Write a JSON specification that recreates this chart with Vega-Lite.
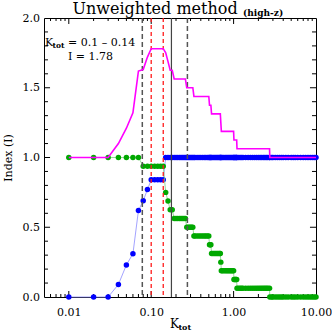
{
  "$schema": "https://vega.github.io/schema/vega-lite/v6.json",
  "autosize": "none",
  "padding": {"left": 44, "top": 18, "right": 16, "bottom": 36},
  "width": 272,
  "height": 279,
  "background": "white",
  "config": {
    "view": {"stroke": "black", "strokeWidth": 1},
    "axis": {"labelFont": "DejaVu Serif", "titleFont": "DejaVu Serif", "labelColor": "black", "ticks": false, "domain": false, "grid": false, "labelFontSize": 11, "titleFontWeight": "normal", "titleColor": "black"}
  },
  "datasets": {
    "index": [
      {"k": 0.01, "b": 0, "g": 1, "i": 1},
      {"k": 0.02, "b": 0, "g": 1, "i": 1},
      {"k": 0.03, "b": 0, "g": 1, "i": 1},
      {"k": 0.04, "b": 0.09, "g": 1, "i": 1.1},
      {"k": 0.05, "b": 0.23, "g": 1, "i": 1.21},
      {"k": 0.06, "b": 0.31, "g": 1, "i": 1.32},
      {"k": 0.07, "b": 0.62, "g": 1, "i": 1.62},
      {"k": 0.08, "b": 0.69, "g": 0.9375, "i": 1.63},
      {"k": 0.09, "b": 0.77, "g": 0.9375, "i": 1.72},
      {"k": 0.10, "b": 0.84, "g": 0.9375, "i": 1.78},
      {"k": 0.11, "b": 0.84, "g": 0.9375, "i": 1.78},
      {"k": 0.12, "b": 0.84, "g": 0.9375, "i": 1.78},
      {"k": 0.13, "b": 0.84, "g": 0.9375, "i": 1.78},
      {"k": 0.14, "b": 0.84, "g": 0.9375, "i": 1.78},
      {"k": 0.15, "b": 1, "g": 0.75, "i": 1.75},
      {"k": 0.16, "b": 1, "g": 0.6875, "i": 1.6875},
      {"k": 0.17, "b": 1, "g": 0.625, "i": 1.625},
      {"k": 0.18, "b": 1, "g": 0.625, "i": 1.625},
      {"k": 0.19, "b": 1, "g": 0.5625, "i": 1.5625},
      {"k": 0.20, "b": 1, "g": 0.5625, "i": 1.5625},
      {"k": 0.21, "b": 1, "g": 0.5625, "i": 1.5625},
      {"k": 0.22, "b": 1, "g": 0.5625, "i": 1.5625},
      {"k": 0.23, "b": 1, "g": 0.5625, "i": 1.5625},
      {"k": 0.24, "b": 1, "g": 0.5625, "i": 1.5625},
      {"k": 0.25, "b": 1, "g": 0.5625, "i": 1.5625},
      {"k": 0.26, "b": 1, "g": 0.5625, "i": 1.5625},
      {"k": 0.27, "b": 1, "g": 0.5, "i": 1.5},
      {"k": 0.28, "b": 1, "g": 0.5, "i": 1.5},
      {"k": 0.29, "b": 1, "g": 0.5, "i": 1.5},
      {"k": 0.30, "b": 1, "g": 0.5, "i": 1.5},
      {"k": 0.31, "b": 1, "g": 0.5, "i": 1.5},
      {"k": 0.32, "b": 1, "g": 0.5, "i": 1.5},
      {"k": 0.33, "b": 1, "g": 0.4375, "i": 1.4375},
      {"k": 0.34, "b": 1, "g": 0.4375, "i": 1.4375},
      {"k": 0.36, "b": 1, "g": 0.4375, "i": 1.4375},
      {"k": 0.38, "b": 1, "g": 0.4375, "i": 1.4375},
      {"k": 0.40, "b": 1, "g": 0.4375, "i": 1.4375},
      {"k": 0.42, "b": 1, "g": 0.4375, "i": 1.4375},
      {"k": 0.44, "b": 1, "g": 0.4375, "i": 1.4375},
      {"k": 0.46, "b": 1, "g": 0.4375, "i": 1.4375},
      {"k": 0.48, "b": 1, "g": 0.4375, "i": 1.4375},
      {"k": 0.50, "b": 1, "g": 0.4375, "i": 1.4375},
      {"k": 0.51, "b": 1, "g": 0.375, "i": 1.375},
      {"k": 0.52, "b": 1, "g": 0.375, "i": 1.375},
      {"k": 0.53, "b": 1, "g": 0.375, "i": 1.375},
      {"k": 0.54, "b": 1, "g": 0.3125, "i": 1.3125},
      {"k": 0.56, "b": 1, "g": 0.3125, "i": 1.3125},
      {"k": 0.58, "b": 1, "g": 0.3125, "i": 1.3125},
      {"k": 0.60, "b": 1, "g": 0.3125, "i": 1.3125},
      {"k": 0.62, "b": 1, "g": 0.3125, "i": 1.3125},
      {"k": 0.64, "b": 1, "g": 0.3125, "i": 1.3125},
      {"k": 0.66, "b": 1, "g": 0.3125, "i": 1.3125},
      {"k": 0.68, "b": 1, "g": 0.3125, "i": 1.3125},
      {"k": 0.69, "b": 1, "g": 0.3125, "i": 1.3125},
      {"k": 0.70, "b": 1, "g": 0.25, "i": 1.25},
      {"k": 0.71, "b": 1, "g": 0.1875, "i": 1.1875},
      {"k": 0.73, "b": 1, "g": 0.1875, "i": 1.1875},
      {"k": 0.76, "b": 1, "g": 0.1875, "i": 1.1875},
      {"k": 0.79, "b": 1, "g": 0.1875, "i": 1.1875},
      {"k": 0.82, "b": 1, "g": 0.1875, "i": 1.1875},
      {"k": 0.85, "b": 1, "g": 0.1875, "i": 1.1875},
      {"k": 0.88, "b": 1, "g": 0.1875, "i": 1.1875},
      {"k": 0.91, "b": 1, "g": 0.1875, "i": 1.1875},
      {"k": 0.94, "b": 1, "g": 0.1875, "i": 1.1875},
      {"k": 0.97, "b": 1, "g": 0.1875, "i": 1.1875},
      {"k": 1.00, "b": 1, "g": 0.1875, "i": 1.1875},
      {"k": 1.01, "b": 1, "g": 0.125, "i": 1.125},
      {"k": 1.03, "b": 1, "g": 0.125, "i": 1.125},
      {"k": 1.05, "b": 1, "g": 0.125, "i": 1.125},
      {"k": 1.07, "b": 1, "g": 0.125, "i": 1.125},
      {"k": 1.09, "b": 1, "g": 0.125, "i": 1.125},
      {"k": 1.10, "b": 1, "g": 0.0625, "i": 1.0625},
      {"k": 1.15, "b": 1, "g": 0.0625, "i": 1.0625},
      {"k": 1.20, "b": 1, "g": 0.0625, "i": 1.0625},
      {"k": 1.25, "b": 1, "g": 0.0625, "i": 1.0625},
      {"k": 1.30, "b": 1, "g": 0.0625, "i": 1.0625},
      {"k": 1.40, "b": 1, "g": 0.0625, "i": 1.0625},
      {"k": 1.50, "b": 1, "g": 0.0625, "i": 1.0625},
      {"k": 1.60, "b": 1, "g": 0.0625, "i": 1.0625},
      {"k": 1.70, "b": 1, "g": 0.0625, "i": 1.0625},
      {"k": 1.80, "b": 1, "g": 0.0625, "i": 1.0625},
      {"k": 1.90, "b": 1, "g": 0.0625, "i": 1.0625},
      {"k": 2.00, "b": 1, "g": 0.0625, "i": 1.0625},
      {"k": 2.10, "b": 1, "g": 0.0625, "i": 1.0625},
      {"k": 2.20, "b": 1, "g": 0.0625, "i": 1.0625},
      {"k": 2.30, "b": 1, "g": 0.0625, "i": 1.0625},
      {"k": 2.40, "b": 1, "g": 0.0625, "i": 1.0625},
      {"k": 2.50, "b": 1, "g": 0.0625, "i": 1.0625},
      {"k": 2.60, "b": 1, "g": 0.0625, "i": 1.0625},
      {"k": 2.73, "b": 1, "g": 0.0625, "i": 1.0625},
      {"k": 2.75, "b": 1, "g": 0, "i": 1},
      {"k": 2.90, "b": 1, "g": 0, "i": 1},
      {"k": 3.00, "b": 1, "g": 0, "i": 1},
      {"k": 3.20, "b": 1, "g": 0, "i": 1},
      {"k": 3.40, "b": 1, "g": 0, "i": 1},
      {"k": 3.60, "b": 1, "g": 0, "i": 1},
      {"k": 3.80, "b": 1, "g": 0, "i": 1},
      {"k": 4.00, "b": 1, "g": 0, "i": 1},
      {"k": 4.30, "b": 1, "g": 0, "i": 1},
      {"k": 4.60, "b": 1, "g": 0, "i": 1},
      {"k": 5.00, "b": 1, "g": 0, "i": 1},
      {"k": 5.30, "b": 1, "g": 0, "i": 1},
      {"k": 5.60, "b": 1, "g": 0, "i": 1},
      {"k": 6.00, "b": 1, "g": 0, "i": 1},
      {"k": 6.50, "b": 1, "g": 0, "i": 1},
      {"k": 7.00, "b": 1, "g": 0, "i": 1},
      {"k": 7.50, "b": 1, "g": 0, "i": 1},
      {"k": 8.00, "b": 1, "g": 0, "i": 1},
      {"k": 8.50, "b": 1, "g": 0, "i": 1},
      {"k": 9.00, "b": 1, "g": 0, "i": 1},
      {"k": 9.50, "b": 1, "g": 0, "i": 1},
      {"k": 10.00, "b": 1, "g": 0, "i": 1}
    ],
    "marks": [
      {"k": 0.078, "kind": "quartile"},
      {"k": 0.275, "kind": "quartile"},
      {"k": 0.10, "kind": "range"},
      {"k": 0.14, "kind": "range"},
      {"k": 0.176, "kind": "median"}
    ],
    "xticks": [
      {"t": 0.006, "major": false}, {"t": 0.007, "major": false}, {"t": 0.008, "major": false}, {"t": 0.009, "major": false},
      {"t": 0.01, "major": true},
      {"t": 0.02, "major": false}, {"t": 0.03, "major": false}, {"t": 0.04, "major": false}, {"t": 0.05, "major": false},
      {"t": 0.06, "major": false}, {"t": 0.07, "major": false}, {"t": 0.08, "major": false}, {"t": 0.09, "major": false},
      {"t": 0.1, "major": true},
      {"t": 0.2, "major": false}, {"t": 0.3, "major": false}, {"t": 0.4, "major": false}, {"t": 0.5, "major": false},
      {"t": 0.6, "major": false}, {"t": 0.7, "major": false}, {"t": 0.8, "major": false}, {"t": 0.9, "major": false},
      {"t": 1, "major": true},
      {"t": 2, "major": false}, {"t": 3, "major": false}, {"t": 4, "major": false}, {"t": 5, "major": false},
      {"t": 6, "major": false}, {"t": 7, "major": false}, {"t": 8, "major": false}, {"t": 9, "major": false}
    ],
    "yticks": [
      {"t": 0.1, "major": false}, {"t": 0.2, "major": false}, {"t": 0.3, "major": false}, {"t": 0.4, "major": false},
      {"t": 0.5, "major": true},
      {"t": 0.6, "major": false}, {"t": 0.7, "major": false}, {"t": 0.8, "major": false}, {"t": 0.9, "major": false},
      {"t": 1.0, "major": true},
      {"t": 1.1, "major": false}, {"t": 1.2, "major": false}, {"t": 1.3, "major": false}, {"t": 1.4, "major": false},
      {"t": 1.5, "major": true},
      {"t": 1.6, "major": false}, {"t": 1.7, "major": false}, {"t": 1.8, "major": false}, {"t": 1.9, "major": false}
    ],
    "one": [{}]
  },
  "layer": [
    {
      "data": {"name": "index"},
      "mark": {"type": "line", "color": "#8c8cff", "strokeWidth": 0.8},
      "encoding": {
        "x": {"field": "k", "type": "quantitative", "scale": {"type": "log", "domain": [0.005, 10], "nice": false},
          "axis": {"orient": "bottom", "title": null,
            "values": [0.01, 0.1, 1, 10],
            "labelExpr": "format(datum.value, '.2f')",
            "labelPadding": 9, "labelOverlap": false, "labelFlush": false}},
        "y": {"field": "b", "type": "quantitative", "scale": {"domain": [0, 2], "nice": false, "zero": false},
          "axis": {"orient": "left", "title": "Index (I)", "titleFontSize": 11, "titlePadding": 9,
            "values": [0, 0.5, 1, 1.5, 2],
            "labelExpr": "format(datum.value, '.1f')",
            "labelPadding": 4.5, "labelOverlap": false, "labelFlush": false}}
      }
    },
    {
      "data": {"name": "xticks"},
      "transform": [{"filter": "!datum.major"}],
      "layer": [
        {"mark": {"type": "rule", "color": "black", "strokeWidth": 1},
         "encoding": {"x": {"field": "t", "type": "quantitative"}, "y": {"datum": 0, "type": "quantitative"}, "y2": {"datum": 0.0215}}},
        {"mark": {"type": "rule", "color": "black", "strokeWidth": 1},
         "encoding": {"x": {"field": "t", "type": "quantitative"}, "y": {"datum": 2, "type": "quantitative"}, "y2": {"datum": 1.9785}}}
      ]
    },
    {
      "data": {"name": "xticks"},
      "transform": [{"filter": "datum.major"}],
      "layer": [
        {"mark": {"type": "rule", "color": "black", "strokeWidth": 1},
         "encoding": {"x": {"field": "t", "type": "quantitative"}, "y": {"datum": 0, "type": "quantitative"}, "y2": {"datum": 0.043}}},
        {"mark": {"type": "rule", "color": "black", "strokeWidth": 1},
         "encoding": {"x": {"field": "t", "type": "quantitative"}, "y": {"datum": 2, "type": "quantitative"}, "y2": {"datum": 1.957}}}
      ]
    },
    {
      "data": {"name": "yticks"},
      "transform": [{"filter": "!datum.major"}],
      "layer": [
        {"mark": {"type": "rule", "color": "black", "strokeWidth": 1},
         "encoding": {"y": {"field": "t", "type": "quantitative"}, "x": {"datum": 0.005, "type": "quantitative"}, "x2": {"datum": 0.00559}}},
        {"mark": {"type": "rule", "color": "black", "strokeWidth": 1},
         "encoding": {"y": {"field": "t", "type": "quantitative"}, "x": {"datum": 10, "type": "quantitative"}, "x2": {"datum": 8.94}}}
      ]
    },
    {
      "data": {"name": "yticks"},
      "transform": [{"filter": "datum.major"}],
      "layer": [
        {"mark": {"type": "rule", "color": "black", "strokeWidth": 1},
         "encoding": {"y": {"field": "t", "type": "quantitative"}, "x": {"datum": 0.005, "type": "quantitative"}, "x2": {"datum": 0.00592}}},
        {"mark": {"type": "rule", "color": "black", "strokeWidth": 1},
         "encoding": {"y": {"field": "t", "type": "quantitative"}, "x": {"datum": 10, "type": "quantitative"}, "x2": {"datum": 8.45}}}
      ]
    },
    {
      "data": {"name": "index"},
      "mark": {"type": "circle", "color": "#0000ff", "opacity": 1, "size": 30},
      "encoding": {
        "x": {"field": "k", "type": "quantitative"},
        "y": {"field": "b", "type": "quantitative"}
      }
    },
    {
      "data": {"name": "index"},
      "mark": {"type": "line", "color": "#7fd07f", "strokeWidth": 0.8},
      "encoding": {
        "x": {"field": "k", "type": "quantitative"},
        "y": {"field": "g", "type": "quantitative"}
      }
    },
    {
      "data": {"name": "index"},
      "mark": {"type": "circle", "color": "#00a800", "opacity": 1, "size": 30},
      "encoding": {
        "x": {"field": "k", "type": "quantitative"},
        "y": {"field": "g", "type": "quantitative"}
      }
    },
    {
      "data": {"name": "marks"},
      "transform": [{"filter": "datum.kind == 'quartile'"}],
      "mark": {"type": "rule", "color": "#555555", "strokeWidth": 1.5, "strokeDash": [5, 3]},
      "encoding": {"x": {"field": "k", "type": "quantitative"}}
    },
    {
      "data": {"name": "marks"},
      "transform": [{"filter": "datum.kind == 'range'"}],
      "mark": {"type": "rule", "color": "#ff1a1a", "strokeWidth": 1.3, "strokeDash": [4, 3]},
      "encoding": {"x": {"field": "k", "type": "quantitative"}}
    },
    {
      "data": {"name": "marks"},
      "transform": [{"filter": "datum.kind == 'median'"}],
      "mark": {"type": "rule", "color": "#444444", "strokeWidth": 1.2},
      "encoding": {"x": {"field": "k", "type": "quantitative"}}
    },
    {
      "data": {"name": "index"},
      "mark": {"type": "line", "color": "#ff00ff", "strokeWidth": 1.6},
      "encoding": {
        "x": {"field": "k", "type": "quantitative"},
        "y": {"field": "i", "type": "quantitative"}
      }
    },
    {
      "data": {"name": "one"},
      "mark": {"type": "text", "text": "Unweighted method", "font": "DejaVu Serif", "fontSize": 16, "align": "left", "baseline": "alphabetic", "color": "black"},
      "encoding": {"x": {"datum": 0.0111, "type": "quantitative"}, "y": {"datum": 2.03, "type": "quantitative"}}
    },
    {
      "data": {"name": "one"},
      "mark": {"type": "text", "text": "(high-z)", "font": "DejaVu Serif", "fontSize": 9, "fontWeight": "bold", "align": "left", "baseline": "alphabetic", "color": "black"},
      "encoding": {"x": {"datum": 1.30, "type": "quantitative"}, "y": {"datum": 2.013, "type": "quantitative"}}
    },
    {
      "data": {"name": "one"},
      "mark": {"type": "text", "text": "K", "font": "DejaVu Serif", "fontSize": 11, "align": "left", "baseline": "alphabetic", "color": "black"},
      "encoding": {"x": {"datum": 0.00514, "type": "quantitative"}, "y": {"datum": 1.796, "type": "quantitative"}}
    },
    {
      "data": {"name": "one"},
      "mark": {"type": "text", "text": "tot", "font": "DejaVu Serif", "fontSize": 7.5, "fontWeight": "bold", "align": "left", "baseline": "alphabetic", "color": "black"},
      "encoding": {"x": {"datum": 0.00634, "type": "quantitative"}, "y": {"datum": 1.785, "type": "quantitative"}}
    },
    {
      "data": {"name": "one"},
      "mark": {"type": "text", "text": "= 0.1 – 0.14", "font": "DejaVu Serif", "fontSize": 11, "align": "left", "baseline": "alphabetic", "color": "black"},
      "encoding": {"x": {"datum": 0.00978, "type": "quantitative"}, "y": {"datum": 1.796, "type": "quantitative"}}
    },
    {
      "data": {"name": "one"},
      "mark": {"type": "text", "text": "I = 1.78", "font": "DejaVu Serif", "fontSize": 11, "align": "left", "baseline": "alphabetic", "color": "black"},
      "encoding": {"x": {"datum": 0.00978, "type": "quantitative"}, "y": {"datum": 1.699, "type": "quantitative"}}
    },
    {
      "data": {"name": "one"},
      "mark": {"type": "text", "text": "K", "font": "DejaVu Serif", "fontSize": 12, "align": "left", "baseline": "alphabetic", "color": "black"},
      "encoding": {"x": {"datum": 0.169, "type": "quantitative"}, "y": {"datum": -0.222, "type": "quantitative"}}
    },
    {
      "data": {"name": "one"},
      "mark": {"type": "text", "text": "tot", "font": "DejaVu Serif", "fontSize": 8, "fontWeight": "bold", "align": "left", "baseline": "alphabetic", "color": "black"},
      "encoding": {"x": {"datum": 0.214, "type": "quantitative"}, "y": {"datum": -0.238, "type": "quantitative"}}
    }
  ]
}
